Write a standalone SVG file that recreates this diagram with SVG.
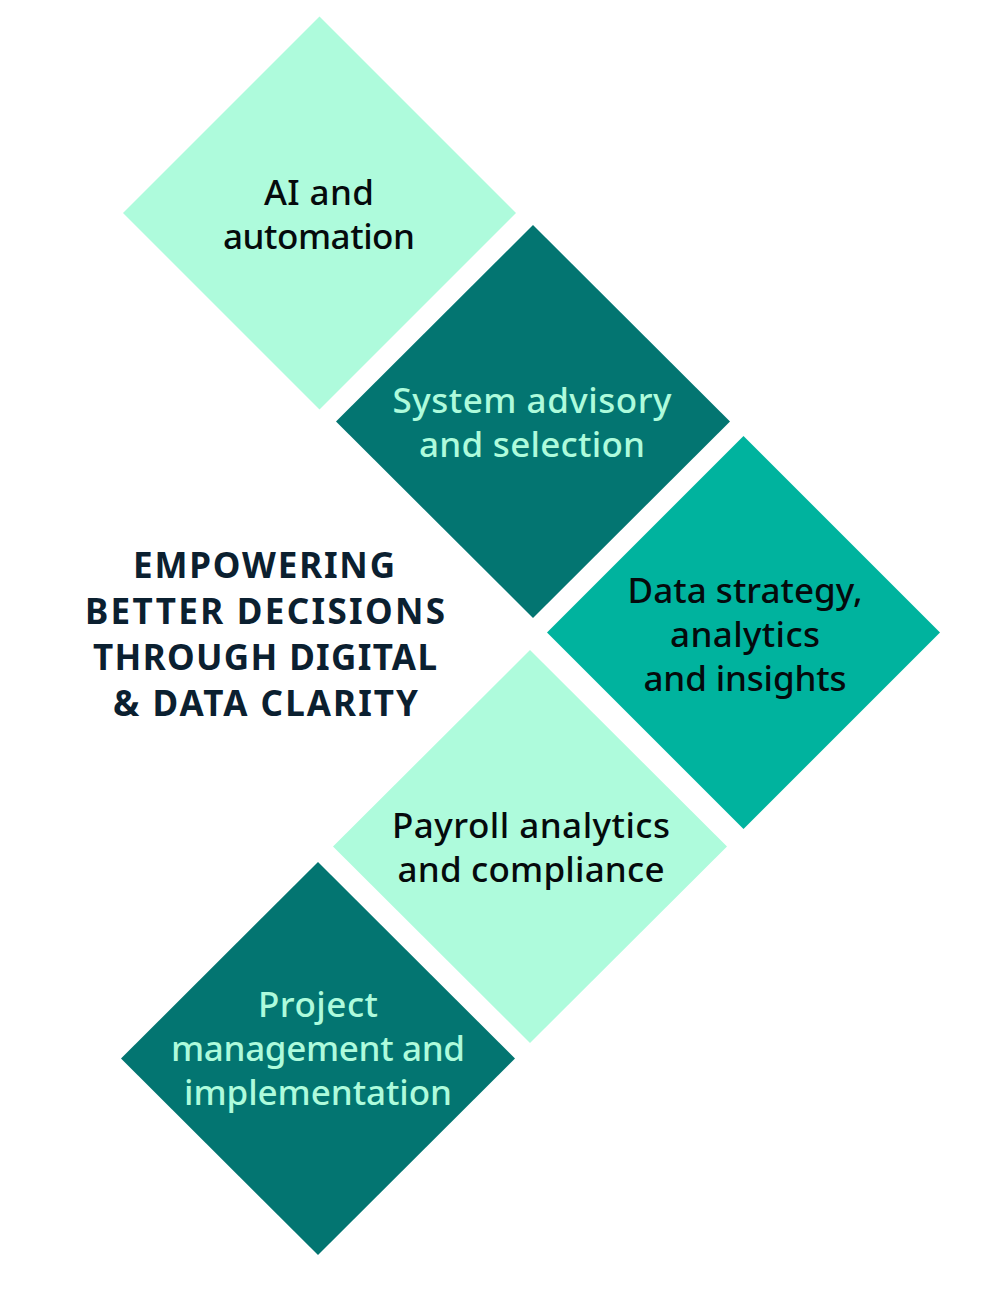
<svg xmlns="http://www.w3.org/2000/svg" width="1000" height="1294" viewBox="0 0 1000 1294">
<style>
.light{fill:#aefbdc}
.dark{fill:#037571}
.mid{fill:#00b39e}
text{font-family:"Noto Sans","Open Sans","Liberation Sans",sans-serif;font-size:35px;font-weight:500;text-anchor:middle}
.tl{fill:#050a0c}
.td{fill:#aefbdc}
.title{font-weight:bold;fill:#0b2030;font-size:35px}
</style>
<rect width="1000" height="1294" fill="#ffffff"/>
<g id="connectors"></g>
<g id="node-ai">
<polygon class="light" points="319.5,16.5 516,213 319.5,409.5 123,213"/>
<text class="tl" x="319" y="205" textLength="110">AI and</text>
<text class="tl" x="319" y="249" textLength="192">automation</text>
</g>
<g id="node-system">
<polygon class="dark" points="533,225 730,421.5 533,618 336,421.5"/>
<text class="td" x="532" y="413" textLength="279">System advisory</text>
<text class="td" x="532" y="457" textLength="226">and selection</text>
</g>
<g id="node-data">
<polygon class="mid" points="743.5,436 940,632.5 743.5,829 547,632.5"/>
<text class="tl" x="745" y="603" textLength="235">Data strategy,</text>
<text class="tl" x="745" y="647" textLength="150">analytics</text>
<text class="tl" x="745" y="691" textLength="203">and insights</text>
</g>
<g id="node-payroll">
<polygon class="light" points="530,650 727,846.5 530,1043 333,846.5"/>
<text class="tl" x="531" y="838" textLength="278">Payroll analytics</text>
<text class="tl" x="531" y="882" textLength="267">and compliance</text>
</g>
<g id="node-project">
<polygon class="dark" points="318,862 515,1058.5 318,1255 121,1058.5"/>
<text class="td" x="318" y="1017" textLength="120">Project</text>
<text class="td" x="318" y="1061" textLength="294">management and</text>
<text class="td" x="318" y="1105" textLength="268">implementation</text>
</g>
<g id="title">
<text class="title" x="264" y="578" textLength="262">EMPOWERING</text>
<text class="title" x="265" y="624" textLength="360">BETTER DECISIONS</text>
<text class="title" x="265" y="670" textLength="344">THROUGH DIGITAL</text>
<text class="title" x="265.5" y="716" textLength="305">&amp; DATA CLARITY</text>
</g>
</svg>
